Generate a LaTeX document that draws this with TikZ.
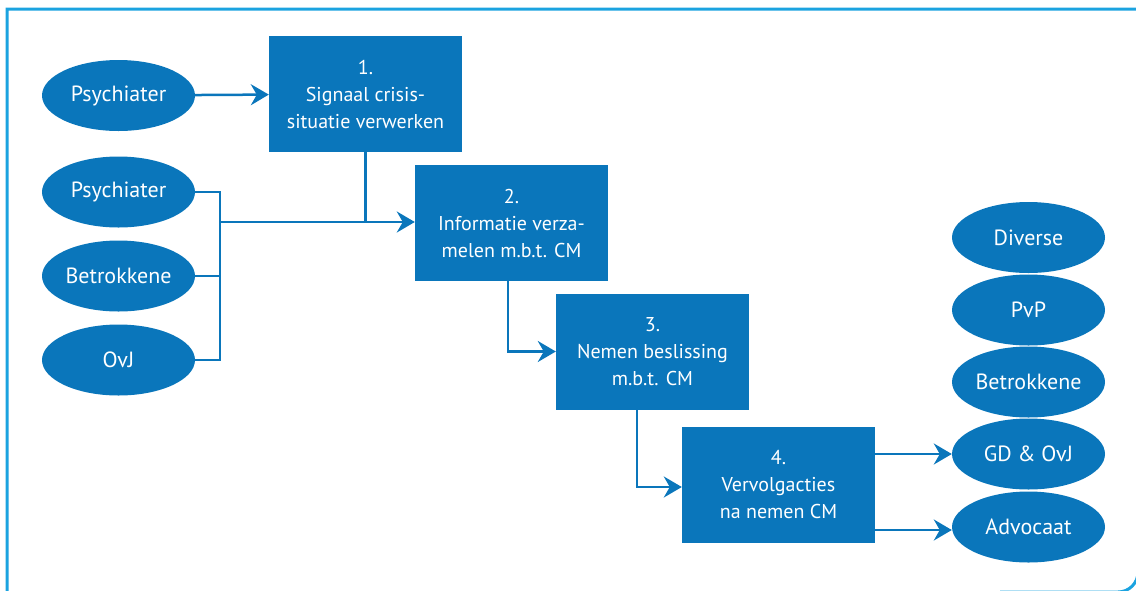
\documentclass[tikz,border=0pt]{standalone}
\usepackage{fontspec}
\setmainfont{PT Sans}
\usetikzlibrary{shapes.geometric,arrows.meta}
\definecolor{stepblue}{RGB}{10,118,187}
\definecolor{framecyan}{RGB}{27,163,224}
\begin{document}
\begin{tikzpicture}[x=1pt,y=-1pt,
  stepbox/.style={rectangle, fill=stepblue, text=white, minimum width=193pt,
    minimum height=116pt, inner sep=0pt, align=center,
    font=\fontsize{20}{27}\selectfont},
  actor/.style={ellipse, fill=stepblue, text=white, minimum width=153pt,
    minimum height=71pt, inner sep=0pt, font=\fontsize{22}{24}\selectfont},
  link/.style={draw=stepblue, line width=2.5pt},
  flow/.style={link, -{Stealth[length=18pt,width=21pt,inset=6pt]}}]
\useasboundingbox (0,0) rectangle (1136,590);
\clip (0,0) rectangle (1136,590);
% outer frame
\draw[framecyan, line width=3pt] (7,620) -- (7,9) -- (1138,9) -- (1138,500)
  [rounded corners=20pt] -- (1138,592) -- (1000,592);

% process steps
\node[stepbox] (b1) at (365.5,94) {1.\\Signaal crisis-\\situatie verwerken};
\node[stepbox] (b2) at (511.5,223) {2.\\Informatie verza-\\melen m.b.t. CM};
\node[stepbox] (b3) at (652.5,351.5) {3.\\Nemen beslissing\\m.b.t. CM};
\node[stepbox] (b4) at (778.5,485) {4.\\Vervolgacties\\na nemen CM};

% parties on the left
\node[actor] (p1) at (118.5,95.5) {Psychiater};
\node[actor] (p2) at (118.5,192) {Psychiater};
\node[actor] (bt) at (118.5,276) {Betrokkene};
\node[actor] (oj) at (118.5,360) {OvJ};

% parties on the right
\node[actor] (dv) at (1028.5,237.5) {Diverse};
\node[actor] (pp) at (1028.5,310) {PvP};
\node[actor] (br) at (1028.5,382) {Betrokkene};
\node[actor] (gd) at (1028.5,454) {GD \& OvJ};
\node[actor] (ad) at (1028.5,527) {Advocaat};

% connectors
\coordinate (j) at (220,222);
\draw[flow] (p1) -- (b1);
\draw[link] (p2.east) -| (j);
\draw[link] (bt.east) -| (j);
\draw[link] (oj.east) -| (j);
\draw[link] (b1.south) -- (b1.south |- j);
\draw[flow] (j) -- (b2.west |- j);
\draw[flow] ([xshift=-3.5pt]b2.south) |- (b3.west);
\draw[flow] ([xshift=-15.5pt]b3.south) |- ([yshift=-2pt]b4.west);
\draw[flow] (b4.east |- gd.west) -- (gd.west);
\draw[flow] ([yshift=-3pt]b4.east |- ad.west) -- ([yshift=-3pt]ad.west);
\end{tikzpicture}
\end{document}
